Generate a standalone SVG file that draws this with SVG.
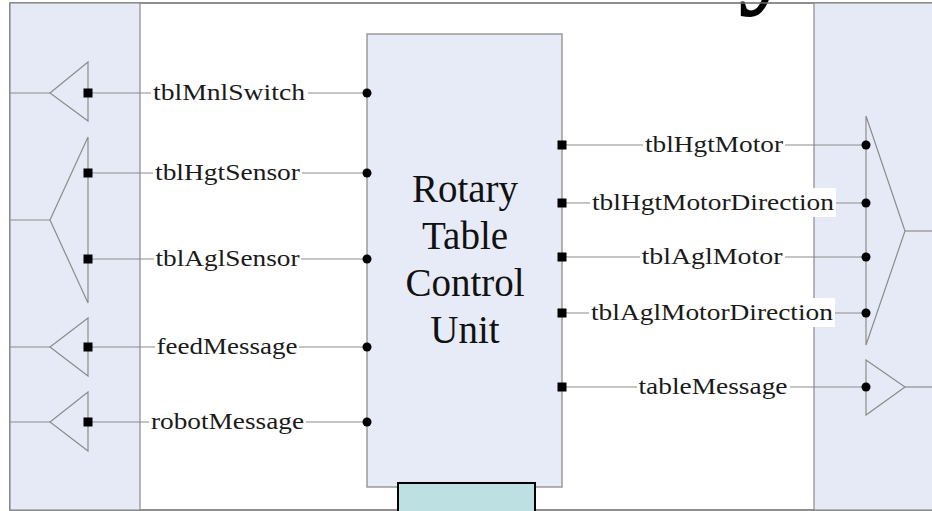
<svg xmlns="http://www.w3.org/2000/svg" width="932" height="511" viewBox="0 0 932 511">
  <style>
    .panel { fill: #e5eaf6; stroke: #8a8a8a; stroke-width: 1.2; }
    .block { fill: #e6ebf7; stroke: #9a9a9a; stroke-width: 1.5; }
    .port { fill: none; stroke: #8c8c8c; stroke-width: 1.2; }
    .wire { stroke: #8c8c8c; stroke-width: 1.2; fill: none; }
    .lblbg { fill: #ffffff; }
    .lbl { font-family: "Liberation Serif", "Times New Roman", serif; font-size: 22.5px; fill: #1a1a1a; }
    .title { font-family: "Liberation Serif", "Times New Roman", serif; font-size: 39px; fill: #111; text-anchor: middle; }
    .sq { fill: #000; }
    .dot { fill: #000; }
  </style>

  <rect x="0" y="0" width="932" height="511" fill="#ffffff"/>

  <!-- tail of the large heading above the frame -->
  <text x="738" y="-9" font-family="'Liberation Serif', serif" font-weight="bold" font-size="120" fill="#000">y</text>

  <!-- outer frame -->
  <rect x="10" y="3" width="940" height="507" fill="none" stroke="#6a6a6a" stroke-width="1.5"/>

  <!-- environment panels -->
  <g id="leftPanel">
    <rect class="panel" x="10" y="3" width="130" height="507"/>
  </g>
  <g id="rightPanel">
    <rect class="panel" x="814" y="3" width="140" height="507"/>
  </g>

  <!-- main control block -->
  <g id="rotaryTableControlUnit">
    <rect class="block" x="367" y="34" width="195" height="453"/>
    <text class="title" x="465" y="202">Rotary</text>
    <text class="title" x="465" y="249">Table</text>
    <text class="title" x="465" y="296">Control</text>
    <text class="title" x="465" y="343">Unit</text>
  </g>

  <g id="lowerBlock">
    <rect x="398" y="483" width="137" height="40" fill="#bde0e3" stroke="#000" stroke-width="2"/>
  </g>

  <!-- port symbols on the left panel -->
  <g id="leftPorts" class="port">
    <line x1="10" y1="93" x2="50" y2="93"/>
    <polygon points="88,62 50,93 88,121"/>
    <line x1="10" y1="220" x2="50" y2="220"/>
    <polygon points="88,137 50,220 88,303"/>
    <line x1="10" y1="347" x2="50" y2="347"/>
    <polygon points="88,318 50,347 88,376"/>
    <line x1="10" y1="422" x2="50" y2="422"/>
    <polygon points="88,392 50,422 88,451"/>
  </g>

  <!-- port symbols on the right panel -->
  <g id="rightPorts" class="port">
    <polygon points="866,116 905,231 866,345"/>
    <line x1="905" y1="231" x2="932" y2="231"/>
    <polygon points="866,360 905,387 866,415"/>
    <line x1="905" y1="387" x2="932" y2="387"/>
  </g>

  <!-- signal connectors -->
  <g id="connectors">
    <g class="wire">
      <line x1="88" y1="93" x2="367" y2="93"/>
      <line x1="88" y1="173" x2="367" y2="173"/>
      <line x1="88" y1="259" x2="367" y2="259"/>
      <line x1="88" y1="347" x2="367" y2="347"/>
      <line x1="88" y1="422" x2="367" y2="422"/>
      <line x1="562" y1="145" x2="866" y2="145"/>
      <line x1="562" y1="203" x2="866" y2="203"/>
      <line x1="562" y1="257" x2="866" y2="257"/>
      <line x1="562" y1="313" x2="866" y2="313"/>
      <line x1="562" y1="387" x2="866" y2="387"/>
    </g>

    <!-- label backgrounds -->
    <g class="lblbg">
      <rect x="151" y="79" width="157" height="28"/>
      <rect x="153" y="159" width="149" height="28"/>
      <rect x="154" y="245" width="147" height="28"/>
      <rect x="155" y="333" width="144" height="28"/>
      <rect x="149" y="408" width="157" height="28"/>
      <rect x="643" y="131" width="142" height="28"/>
      <rect x="590" y="188" width="246" height="29"/>
      <rect x="640" y="243" width="145" height="28"/>
      <rect x="589" y="298" width="246" height="29"/>
      <rect x="637" y="373" width="153" height="28"/>
    </g>

    <!-- labels -->
    <g class="lbl" text-anchor="middle">
      <text x="229" y="100" textLength="152" lengthAdjust="spacingAndGlyphs">tblMnlSwitch</text>
      <text x="227.5" y="180" textLength="145" lengthAdjust="spacingAndGlyphs">tblHgtSensor</text>
      <text x="227.5" y="266" textLength="144" lengthAdjust="spacingAndGlyphs">tblAglSensor</text>
      <text x="227" y="354" textLength="141" lengthAdjust="spacingAndGlyphs">feedMessage</text>
      <text x="227.5" y="429" textLength="153" lengthAdjust="spacingAndGlyphs">robotMessage</text>
      <text x="714" y="152" textLength="138" lengthAdjust="spacingAndGlyphs">tblHgtMotor</text>
      <text x="713" y="210" textLength="242" lengthAdjust="spacingAndGlyphs">tblHgtMotorDirection</text>
      <text x="712" y="264" textLength="141" lengthAdjust="spacingAndGlyphs">tblAglMotor</text>
      <text x="712" y="320" textLength="242" lengthAdjust="spacingAndGlyphs">tblAglMotorDirection</text>
      <text x="713" y="394" textLength="149" lengthAdjust="spacingAndGlyphs">tableMessage</text>
    </g>

    <!-- source pins (squares) -->
    <g class="sq">
      <rect x="83.5" y="88.5" width="9" height="9"/>
      <rect x="83.5" y="168.5" width="9" height="9"/>
      <rect x="83.5" y="254.5" width="9" height="9"/>
      <rect x="83.5" y="342.5" width="9" height="9"/>
      <rect x="83.5" y="417.5" width="9" height="9"/>
      <rect x="557.5" y="140.5" width="9" height="9"/>
      <rect x="557.5" y="198.5" width="9" height="9"/>
      <rect x="557.5" y="252.5" width="9" height="9"/>
      <rect x="557.5" y="308.5" width="9" height="9"/>
      <rect x="557.5" y="382.5" width="9" height="9"/>
    </g>

    <!-- sink pins (dots) -->
    <g class="dot">
      <circle cx="367" cy="93" r="4.5"/>
      <circle cx="367" cy="173" r="4.5"/>
      <circle cx="367" cy="259" r="4.5"/>
      <circle cx="367" cy="347" r="4.5"/>
      <circle cx="367" cy="422" r="4.5"/>
      <circle cx="866" cy="145" r="4.5"/>
      <circle cx="866" cy="203" r="4.5"/>
      <circle cx="866" cy="257" r="4.5"/>
      <circle cx="866" cy="313" r="4.5"/>
      <circle cx="866" cy="387" r="4.5"/>
    </g>
  </g>
</svg>
